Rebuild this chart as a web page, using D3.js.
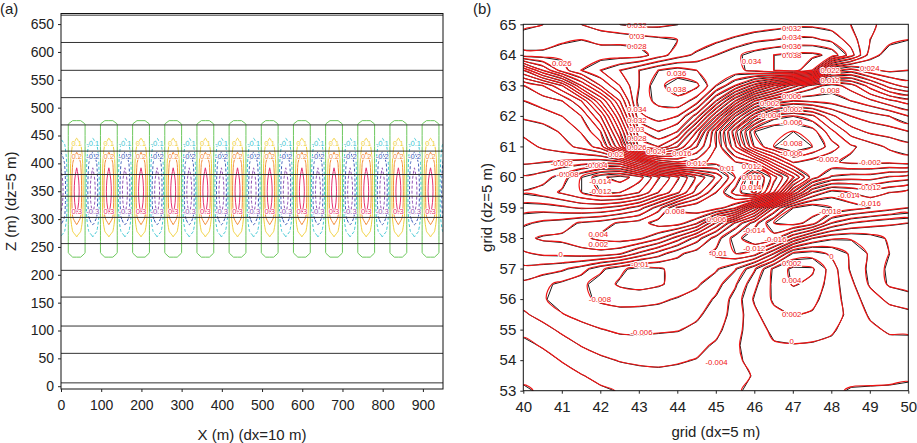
<!DOCTYPE html>
<html>
<head>
<meta charset="utf-8">
<script src="https://cdn.jsdelivr.net/npm/d3@7"></script>
<style>
  html, body { margin: 0; padding: 0; background: #fff; }
  svg { display: block; font-family: "Liberation Sans", Arial, Helvetica, sans-serif; }
</style>
</head>
<body>
<div id="chart"></div>
<script>
// ---------- panel (a) data ----------
// horizontal layer lines (z in m)
const layerLinesA = [666, 617, 567, 518, 469, 422, 380, 341, 303, 256, 208, 160, 108, 59, 6];
// one 80 m wave period, sampled every 10 m starting at x = -1 m
const waveXA = [-1, -0.71, 0, 0.71, 1, 0.71, 0, -0.71];
// amplitude profile, z = 180 ... 520 m every 10 m
const ampZA = [0, 0, 0, 0, 0, 0.01, 0.03, 0.05, 0.08, 0.105, 0.15, 0.2, 0.26, 0.305, 0.33, 0.35,
  0.36, 0.365, 0.36, 0.35, 0.33, 0.305, 0.28, 0.245, 0.2, 0.16, 0.115, 0.085, 0.06, 0.04, 0.02,
  0.01, 0, 0, 0];
// green box mask (same sampling)
const boxXA = [0, 0, 0.55, 1, 1, 1, 0.55, 0];
const boxZA = [0, 0, 0, 0, 0, 0.4, 1, 1, 1, 1, 1, 1, 1, 1, 1, 1, 1, 1, 1, 1, 1, 1, 1, 1, 1, 1, 1,
  1, 1, 1, 0.25, 0, 0, 0, 0];
const levelsA = [-0.3, -0.2, -0.1, 0.1, 0.2, 0.3];
const labelZA = { 0.1: 435, 0.2: 412, 0.3: 314 };
const xTicksA = [0, 100, 200, 300, 400, 500, 600, 700, 800, 900];
const yTicksA = [0, 50, 100, 150, 200, 250, 300, 350, 400, 450, 500, 550, 600, 650];

// ---------- panel (b) data (values x 1000) ----------
// columns x = 40 ... 50 every 0.5, rows z = 65 (top) ... 53 every 0.5
const fieldB = [
  [27,28,29,30,31,32,32.5,32.5,32,31,30,30,30.5,31,31.5,31.5,31,30,28.5,27,26],
  [30,30,28.5,28,28.5,28.5,29,29.5,30,30.5,31.5,32.5,33.5,34,34.5,34.5,33.5,31,28,26.5,26],
  [27,27,26.5,26.5,27,27,27,29,31,32.5,34,35.5,37,38,38.5,38.5,37.5,33,27,25,24.5],
  [14,20,25,28,30,32,34,36,37,36,35,35.5,36.5,38,39,36,23,21,23.5,24.5,24],
  [6,8,12,20,26,30,34,37.5,39,38.5,34,30,25,20,15,11,9,11,15,19,21],
  [4,5,6,10,18,26,35,36.5,37.5,35,28,20,12,8,6,6.5,7,8,9.5,11.5,13],
  [2.4,3,4,6,12,22,33.5,35,34,29,20,10,2.5,-3,-4,-2.5,1.5,4,5,6,8],
  [0.5,1,2.3,4.2,8,18,29.5,32,30,22,12,2.5,-6,-8,-8,-7,-2.5,1,2.5,3,4],
  [-0.8,0.3,1.2,2.6,5,14,26.5,28,24,18,12,4.3,-4.3,-8,-9.5,-8,-5,-2.4,-1,0.4,1.2],
  [-1.6,-1.9,-2.3,-2.7,-3.2,-2.4,4.3,12,14,13,11,10,8,1,-4.3,-3,-2.3,-1.5,-1.5,-1.5,-1],
  [-4.3,-5,-7,-10,-13.5,-15,-13,-8.3,-4.4,0.4,4.3,10,17,11,4.4,-3,-6.3,-7,-7,-8.3,-9],
  [-6.3,-7,-8.3,-10,-12,-12,-10,-6,-2.4,3,8,13,16.5,8,-4.3,-12,-15,-14,-13,-14,-15],
  [-3,-3,-3.5,-4.3,-4.1,-3,-1,3,8.3,10,9,6.3,-2.4,-12,-18,-19.5,-18,-17,-16,-15,-14],
  [-0.4,0.5,1,2.3,3,4.3,5,7,7,4.3,-2.3,-8.3,-13,-18,-19,-17,-12,-10,-9,-8.3,-8],
  [1.5,2.3,2.5,3.5,4.5,5,4.4,2.4,-1,-5,-9,-13,-16,-15,-10,-6,-4.3,-4.2,-5,-6.3,-6],
  [-0.3,0.4,0.6,1,1.2,0.3,-2.5,-5,-7.5,-9,-10.5,-12,-11,-6,0.4,1,-0.4,-2.3,-4.3,-6,-7],
  [-2.5,-3,-3.6,-5,-7.5,-9.5,-10.8,-10.3,-9.3,-8.5,-8.3,-6.2,-2.3,2.5,4.5,4.3,1,-2.3,-4.5,-6.5,-7.5],
  [-4.5,-5.5,-6.5,-7.5,-9,-10.3,-10.8,-10.3,-9.3,-8.3,-6.8,-4.3,-0.5,2.5,4.2,3.5,1,-1.5,-4.3,-6.3,-7],
  [-4.8,-5.8,-6.8,-7.6,-8.3,-8.7,-8.7,-8.4,-7.8,-7.2,-5.7,-3.2,0.3,2.3,2.8,2.5,1,-1,-3,-4.5,-5],
  [-3.7,-4.7,-5.9,-6.6,-7.1,-7.3,-7.2,-7.1,-6.7,-6.3,-5.2,-3.1,-0.5,1.5,2.1,1.8,0.8,-0.5,-2.3,-3,-3.5],
  [-2.5,-3.3,-4.4,-5.3,-5.9,-6.3,-6.3,-6.2,-6.1,-5.6,-4.6,-2.6,-1,0.5,1,0.8,0.3,-1,-1.5,-2.3,-2.4],
  [-1.5,-2.2,-3.1,-4.1,-4.8,-5.2,-5.4,-5.3,-5.1,-4.6,-3.7,-2.3,-1,-0.2,-0.1,-0.2,-0.5,-1,-1.3,-1.3,-1.2],
  [-0.8,-1.3,-2.1,-2.9,-3.6,-4.1,-4.3,-4.4,-4.2,-3.9,-3.3,-2.3,-1.5,-0.8,-0.5,-0.4,-0.4,-0.6,-0.8,-0.8,-0.6],
  [-0.3,-0.7,-1.3,-1.9,-2.5,-3,-3.4,-3.5,-3.4,-3.2,-2.9,-2.4,-1.9,-1.5,-0.9,-0.5,-0.3,-0.3,-0.4,-0.3,-0.2],
  [0.2,-0.2,-0.7,-1.2,-1.7,-2.1,-2.5,-2.6,-2.6,-2.5,-2.3,-2.1,-1.8,-1.4,-0.9,-0.5,-0.2,0.1,0.2,0.2,0.3]
];
const levelsB = d3.range(-18, 39, 2);
// contour labels: [x, z, value x 1000]
const labelsB = [
  [42.95,64.96,32],[42.95,64.6,30],[42.95,64.26,28],[41.0,63.7,26],[43.98,63.4,36],[43.98,62.86,38],
  [42.95,62.2,34],[42.95,61.86,32],[42.95,61.56,30],[42.95,61.27,28],[42.95,60.98,26],[43.45,60.84,24],
  [42.4,60.72,20],[41.0,60.45,-2],[41.9,60.36,-4],[41.15,60.08,-8],[42.0,59.84,-14],[42.0,59.54,-12],
  [44.12,60.76,16],[44.5,60.45,12],[45.3,60.28,10],[43.94,58.87,8],[45.02,58.62,6],
  [46.97,64.85,32],[46.97,64.56,34],[46.97,64.27,36],[46.97,63.98,38],[45.93,63.78,34],
  [47.97,63.49,22],[49.0,63.56,24],[47.97,63.16,12],[47.97,62.84,8],
  [46.97,62.62,6],[46.4,62.42,2],[46.97,62.2,-2],[46.4,62.0,-4],[46.97,61.8,-6],
  [46.97,61.08,-8],[46.97,60.78,-6],[47.9,60.56,-2],[49.0,60.48,-2],
  [45.93,60.34,12],[45.93,59.98,16],[45.93,59.66,14],
  [49.0,59.66,-12],[48.45,59.38,-14],[49.0,59.12,-16],[47.97,58.87,-18],
  [41.95,58.1,4],[41.95,57.78,2],[40.97,57.45,0],[43.03,57.12,-10],[41.99,56.0,-8],[43.07,54.9,-6],
  [45.02,53.92,-4],[46.0,58.24,-14],[46.55,57.96,-16],[46.0,57.66,-12],[45.06,57.5,-10],
  [46.97,57.15,2],[46.97,56.6,4],[48.0,57.39,0],[46.97,55.48,2],[46.97,54.6,0]
];
const xTicksB = [40, 41, 42, 43, 44, 45, 46, 47, 48, 49, 50];
const yTicksB = [53, 54, 55, 56, 57, 58, 59, 60, 61, 62, 63, 64, 65];

// ---------- drawing ----------
const W = 917, H = 443;
const svg = d3.select('#chart').append('svg')
  .attr('width', W).attr('height', H).attr('viewBox', `0 0 ${W} ${H}`);

const smoothRing = d3.line().curve(d3.curveCatmullRomClosed.alpha(0.5));
const linearRing = d3.line().curve(d3.curveLinearClosed);
const contourPath = (c, toPx, gen) =>
  c.coordinates.map(poly => poly.map(ring => gen(ring.slice(0, -1).map(toPx))).join('')).join('');

function clipRect(id, x0, y0, x1, y1) {
  svg.append('clipPath').attr('id', id).append('rect')
    .attr('x', x0).attr('y', y0).attr('width', x1 - x0).attr('height', y1 - y0);
}

// ===== panel (a) =====
const xA = d3.scaleLinear().domain([0, 950]).range([61, 443]);
const yA = d3.scaleLinear().domain([-5, 669]).range([389, 13.5]);
const nxA = 97, nzA = ampZA.length, x0A = -1, dxA = 10, zTopA = 520, dzA = 10;
const fieldA = [], boxA = [];
for (let j = 0; j < nzA; j++) {
  const k = nzA - 1 - j;
  for (let i = 0; i < nxA; i++) {
    fieldA.push(waveXA[i % 8] * ampZA[k]);
    boxA.push(boxXA[i % 8] * boxZA[k]);
  }
}
const toPxA = ([u, v]) => [xA(x0A + (u - 0.5) * dxA), yA(zTopA - (v - 0.5) * dzA)];
const styleA = {
  '-0.3': { c: '#9150b4', dash: '3,2' },
  '-0.2': { c: '#3f5cb8', dash: '3,2' },
  '-0.1': { c: '#3ec6d2', dash: '3,2' },
  '0.1': { c: '#f0cf3a', dash: null },
  '0.2': { c: '#f28a36', dash: null },
  '0.3': { c: '#e52d6c', dash: null }
};

clipRect('clipA', xA(0), yA(669), xA(950), yA(-5));
// contour grid only covers z = 180 ... 520 m
clipRect('clipAgrid', xA(0), yA(zTopA), xA(950), yA(zTopA - (nzA - 1) * dzA));
const gA = svg.append('g').attr('clip-path', 'url(#clipA)');
const gAc = gA.append('g').attr('clip-path', 'url(#clipAgrid)');

d3.contours().size([nxA, nzA]).thresholds([0.5])(boxA).forEach(c => {
  gAc.append('path').attr('d', contourPath(c, toPxA, linearRing))
    .attr('fill', 'none').attr('stroke', '#6cc75c').attr('stroke-width', 1);
});

d3.contours().size([nxA, nzA]).thresholds(levelsA)(fieldA).forEach(c => {
  const s = styleA[String(c.value)];
  gAc.append('path').attr('d', contourPath(c, toPxA, smoothRing))
    .attr('fill', 'none').attr('stroke', s.c).attr('stroke-width', 1)
    .attr('stroke-dasharray', s.dash);
});

gA.selectAll('line.layer').data(layerLinesA).join('line').attr('class', 'layer')
  .attr('x1', xA(0)).attr('x2', xA(950))
  .attr('y1', d => yA(d)).attr('y2', d => yA(d))
  .attr('stroke', '#333').attr('stroke-width', 1);

// labels at wave crests / troughs
const labA = [];
for (let i = 0; i < nxA; i++) {
  const x = x0A + i * dxA;
  const w = waveXA[i % 8];
  if ((w === 1 || w === -1) && x > 0 && x < 950) {
    levelsA.filter(l => Math.sign(l) === w).forEach(l => {
      labA.push({ x, z: labelZA[Math.abs(l)], t: (l < 0 ? '-' : '') + Math.abs(l), c: styleA[String(l)].c });
    });
  }
}
svg.append('g').selectAll('text').data(labA).join('text')
  .attr('x', d => xA(d.x)).attr('y', d => yA(d.z))
  .attr('text-anchor', 'middle').attr('dominant-baseline', 'central')
  .attr('font-size', 7.6).attr('fill', d => d.c)
  .attr('stroke', '#fff').attr('stroke-width', 1.6).attr('paint-order', 'stroke')
  .text(d => d.t);

svg.append('rect').attr('x', xA(0)).attr('y', yA(669))
  .attr('width', xA(950) - xA(0)).attr('height', yA(-5) - yA(669))
  .attr('fill', 'none').attr('stroke', '#111').attr('stroke-width', 1);

const axA = svg.append('g').attr('transform', `translate(0,${yA(-5)})`)
  .call(d3.axisBottom(xA).tickValues(xTicksA).tickSize(3).tickPadding(8));
const ayA = svg.append('g').attr('transform', `translate(${xA(0)},0)`)
  .call(d3.axisLeft(yA).tickValues(yTicksA).tickSize(3).tickPadding(4));
[axA, ayA].forEach(g => {
  g.select('.domain').remove();
  g.selectAll('text').attr('font-size', 14).attr('fill', '#222').attr('font-family', null);
  g.selectAll('line').attr('stroke', '#222');
});

svg.append('text').attr('x', 0).attr('y', 14).attr('font-size', 15).attr('fill', '#222').text('(a)');
svg.append('text').attr('x', xA(475)).attr('y', 440).attr('text-anchor', 'middle')
  .attr('font-size', 15).attr('fill', '#222').text('X (m) (dx=10 m)');
svg.append('text').attr('transform', `translate(16,${(yA(669) + yA(-5)) / 2}) rotate(-90)`)
  .attr('text-anchor', 'middle').attr('font-size', 15).attr('fill', '#222').text('Z (m) (dz=5 m)');

// ===== panel (b) =====
const xB = d3.scaleLinear().domain([40, 50]).range([523.3, 908.3]);
const yB = d3.scaleLinear().domain([53, 65]).range([390.7, 24.3]);
const nxB = fieldB[0].length, nzB = fieldB.length, x0B = 40, zTopB = 65, stepB = 0.5;
const toPxB = ([u, v]) => [xB(x0B + (u - 0.5) * stepB), yB(zTopB - (v - 0.5) * stepB)];
const contB = d3.contours().size([nxB, nzB]).thresholds(levelsB)(fieldB.flat());

clipRect('clipB', xB(40), yB(65), xB(50), yB(53));
const gB = svg.append('g').attr('clip-path', 'url(#clipB)');
const gBlack = gB.append('g').attr('transform', 'translate(0.6,0.5)');
const gRed = gB.append('g');
contB.forEach(c => {
  gBlack.append('path').attr('d', contourPath(c, toPxB, linearRing))
    .attr('fill', 'none').attr('stroke', '#1b1b1b').attr('stroke-width', 1);
  gRed.append('path').attr('d', contourPath(c, toPxB, smoothRing))
    .attr('fill', 'none').attr('stroke', '#f01414').attr('stroke-width', 1.15);
});

svg.append('g').selectAll('text').data(labelsB).join('text')
  .attr('x', d => xB(d[0])).attr('y', d => yB(d[1]))
  .attr('text-anchor', 'middle').attr('dominant-baseline', 'central')
  .attr('font-size', 7.8).attr('fill', '#f01414')
  .attr('stroke', '#fff').attr('stroke-width', 2).attr('paint-order', 'stroke')
  .text(d => String(d[2] / 1000));

svg.append('rect').attr('x', xB(40)).attr('y', yB(65))
  .attr('width', xB(50) - xB(40)).attr('height', yB(53) - yB(65))
  .attr('fill', 'none').attr('stroke', '#111').attr('stroke-width', 1);

const axB = svg.append('g').attr('transform', `translate(0,${yB(53)})`)
  .call(d3.axisBottom(xB).tickValues(xTicksB).tickSize(3).tickPadding(8));
const ayB = svg.append('g').attr('transform', `translate(${xB(40)},0)`)
  .call(d3.axisLeft(yB).tickValues(yTicksB).tickSize(3).tickPadding(4));
[axB, ayB].forEach(g => {
  g.select('.domain').remove();
  g.selectAll('text').attr('font-size', 15).attr('fill', '#222').attr('font-family', null);
  g.selectAll('line').attr('stroke', '#222');
});

svg.append('text').attr('x', 473).attr('y', 14).attr('font-size', 15).attr('fill', '#222').text('(b)');
svg.append('text').attr('x', xB(45)).attr('y', 437).attr('text-anchor', 'middle')
  .attr('font-size', 15).attr('fill', '#222').text('grid (dx=5 m)');
svg.append('text').attr('transform', `translate(492,${(yB(65) + yB(53)) / 2}) rotate(-90)`)
  .attr('text-anchor', 'middle').attr('font-size', 15).attr('fill', '#222').text('grid (dz=5 m)');
</script>
</body>
</html>
